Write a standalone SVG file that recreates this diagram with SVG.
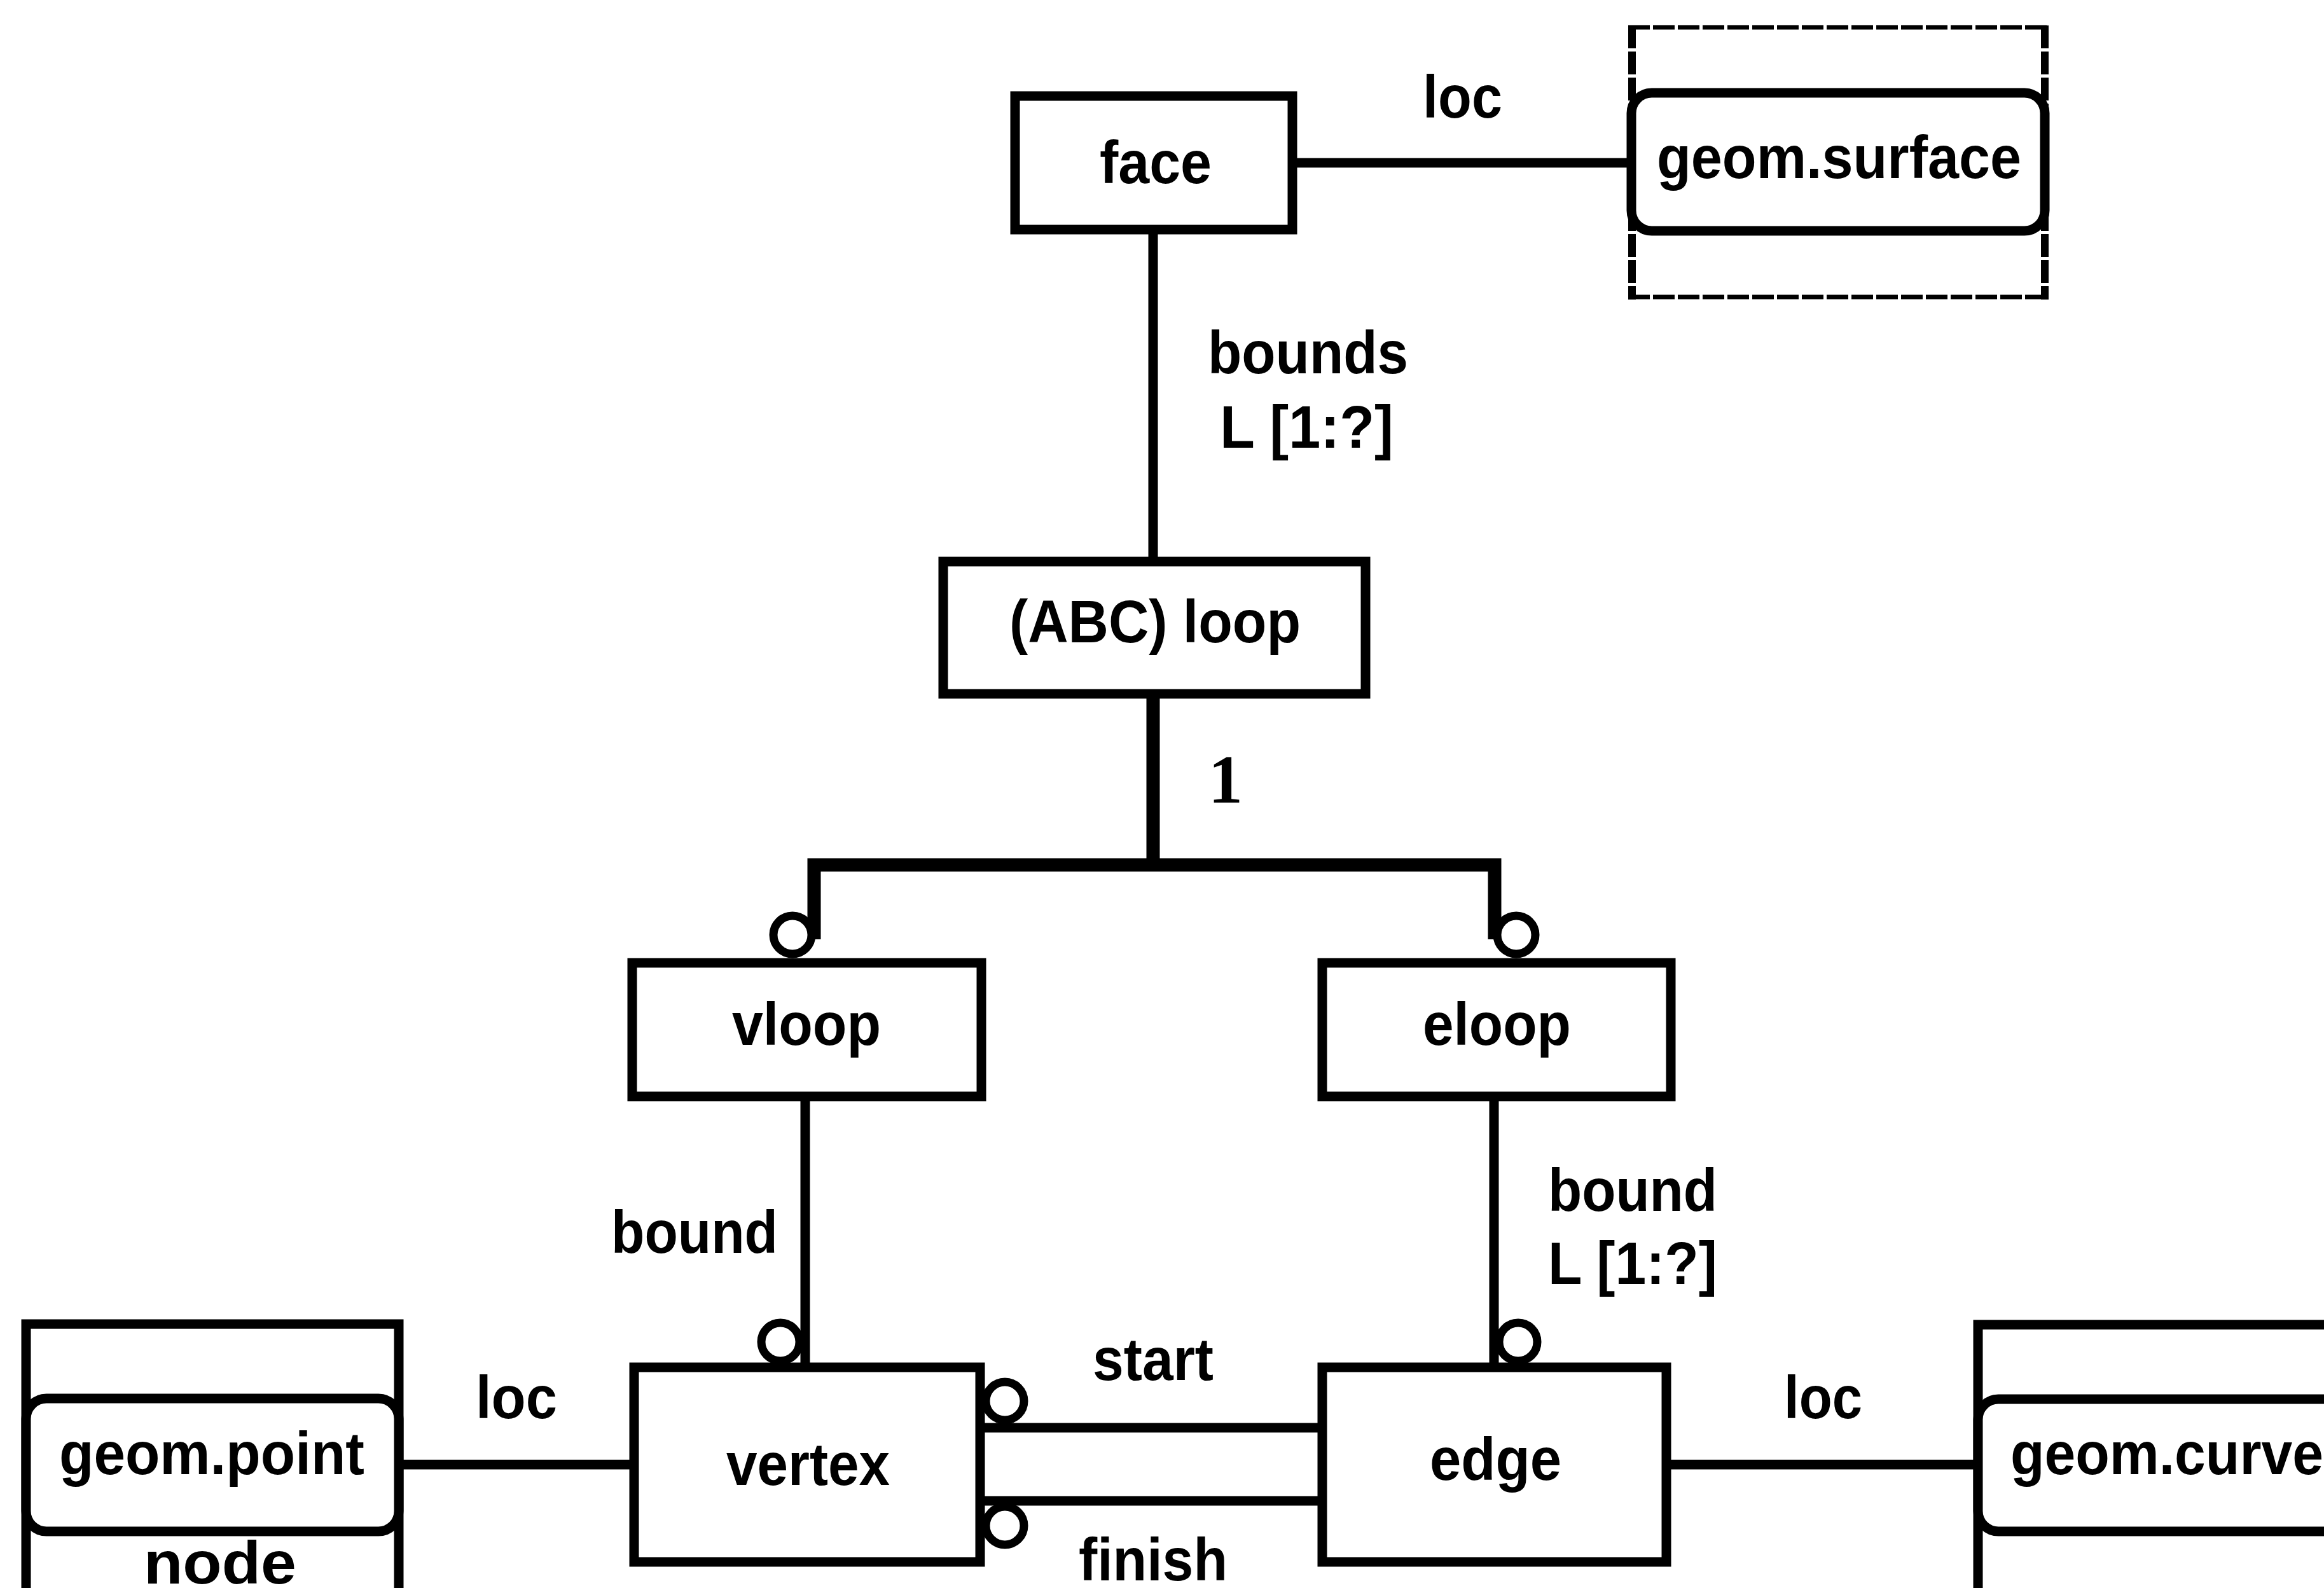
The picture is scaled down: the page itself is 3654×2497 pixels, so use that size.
<svg xmlns="http://www.w3.org/2000/svg" width="3654" height="2497" viewBox="0 0 3654 2497">
<style>
.box{fill:#fff;stroke:#000;stroke-width:15}
.rbox{fill:#fff;stroke:#000;stroke-width:15}
.ln{fill:none;stroke:#000;stroke-width:15}
.bus{fill:none;stroke:#000;stroke-width:21}
.ring{fill:#fff;stroke:#000;stroke-width:13}
.t{font-family:"Liberation Sans",Arial,sans-serif;font-weight:bold;font-size:94px;fill:#000}
.n{font-family:"Liberation Serif","Times New Roman",serif;font-weight:bold;font-size:108px;fill:#000}
</style>
<rect width="3654" height="2497" fill="#fff"/>
<g id="connectors">
<line class="ln" x1="2034" y1="256" x2="2565" y2="256"/>
<line class="ln" x1="1813" y1="361" x2="1813" y2="882"/>
<line class="bus" x1="1813" y1="1098" x2="1813" y2="1360"/>
<polyline class="bus" points="1280,1477 1280,1360 2350,1360 2350,1477"/>
<circle class="ring" cx="1246" cy="1470" r="30"/>
<circle class="ring" cx="2384" cy="1470" r="30"/>
<line class="ln" x1="1266" y1="1724" x2="1266" y2="2149"/>
<line class="ln" x1="2349" y1="1724" x2="2349" y2="2149"/>
<circle class="ring" cx="1227" cy="2110" r="30"/>
<circle class="ring" cx="2387" cy="2110" r="30"/>
<line class="ln" x1="1541" y1="2245" x2="2079" y2="2245"/>
<line class="ln" x1="1541" y1="2360" x2="2079" y2="2360"/>
<circle class="ring" cx="1580" cy="2203" r="30"/>
<circle class="ring" cx="1580" cy="2399" r="30"/>
<line class="ln" x1="627" y1="2303" x2="997" y2="2303"/>
<line class="ln" x1="2620" y1="2303" x2="3110" y2="2303"/>
<text class="t" x="2237" y="185" textLength="125" lengthAdjust="spacingAndGlyphs">loc</text>
<text class="t" x="1899" y="587" textLength="315" lengthAdjust="spacingAndGlyphs">bounds</text>
<text class="t" x="1918" y="704" textLength="273" lengthAdjust="spacingAndGlyphs">L [1:?]</text>
<text class="n" x="1900" y="1262">1</text>
<text class="t" x="961" y="1970" textLength="262" lengthAdjust="spacingAndGlyphs">bound</text>
<text class="t" x="2434" y="1904" textLength="266" lengthAdjust="spacingAndGlyphs">bound</text>
<text class="t" x="2434" y="2019" textLength="266" lengthAdjust="spacingAndGlyphs">L [1:?]</text>
<text class="t" x="748" y="2230" textLength="128" lengthAdjust="spacingAndGlyphs">loc</text>
<text class="t" x="2805" y="2230" textLength="123" lengthAdjust="spacingAndGlyphs">loc</text>
<text class="t" x="1718" y="2170" textLength="190" lengthAdjust="spacingAndGlyphs">start</text>
<text class="t" x="1696" y="2485" textLength="234" lengthAdjust="spacingAndGlyphs">finish</text>
</g>
<g id="face">
<rect class="box" x="1596" y="151" width="436" height="210"/>
<text class="t" x="1729" y="288" textLength="176" lengthAdjust="spacingAndGlyphs">face</text>
</g>
<g id="geom-surface">
<path d="M2560 43 H3221 M2560 467 H3221" fill="none" stroke="#000" stroke-width="7" stroke-dasharray="34 5"/>
<path d="M2566 40 V471 M3215 40 V471" fill="none" stroke="#000" stroke-width="12" stroke-dasharray="36 5"/>
<rect class="rbox" x="2565" y="146" width="650" height="217" rx="32" ry="32"/>
<text class="t" x="2605" y="280" textLength="573" lengthAdjust="spacingAndGlyphs">geom.surface</text>
</g>
<g id="abc-loop">
<rect class="box" x="1483" y="883" width="664" height="208"/>
<text class="t" x="1587" y="1010" textLength="458" lengthAdjust="spacingAndGlyphs">(ABC) loop</text>
</g>
<g id="vloop">
<rect class="box" x="994" y="1514" width="549" height="210"/>
<text class="t" x="1151" y="1643" textLength="234" lengthAdjust="spacingAndGlyphs">vloop</text>
</g>
<g id="eloop">
<rect class="box" x="2079" y="1514" width="548" height="210"/>
<text class="t" x="2237" y="1643" textLength="233" lengthAdjust="spacingAndGlyphs">eloop</text>
</g>
<g id="vertex">
<rect class="box" x="997" y="2150" width="544" height="306"/>
<text class="t" x="1142" y="2335" textLength="257" lengthAdjust="spacingAndGlyphs">vertex</text>
</g>
<g id="edge">
<rect class="box" x="2079" y="2150" width="541" height="306"/>
<text class="t" x="2248" y="2327" textLength="207" lengthAdjust="spacingAndGlyphs">edge</text>
</g>
<g id="node">
<rect class="box" x="41" y="2082" width="586" height="500"/>
<rect class="rbox" x="41" y="2199" width="586" height="209" rx="32" ry="32"/>
<text class="t" x="93" y="2318" textLength="480" lengthAdjust="spacingAndGlyphs">geom.point</text>
<text class="t" x="226" y="2490" textLength="240" lengthAdjust="spacingAndGlyphs">node</text>
</g>
<g id="geom-curve">
<rect class="box" x="3110" y="2083" width="700" height="500"/>
<rect class="rbox" x="3110" y="2200" width="700" height="208" rx="32" ry="32"/>
<text class="t" x="3161" y="2318" textLength="492" lengthAdjust="spacingAndGlyphs">geom.curve</text>
</g>
</svg>
